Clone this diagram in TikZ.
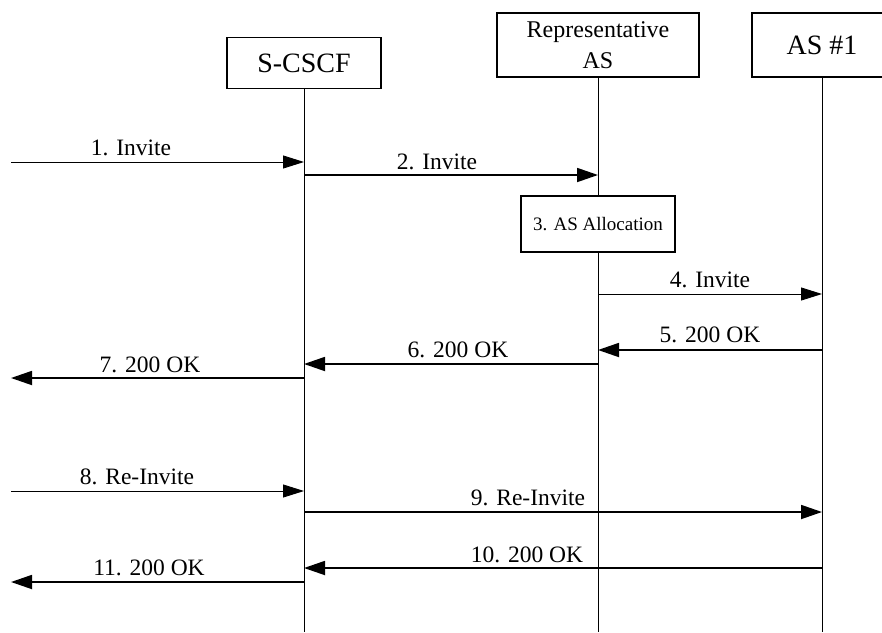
\documentclass[tikz,border=0pt]{standalone}
\usepackage{fontspec}
\setmainfont{Liberation Serif}
\usetikzlibrary{arrows.meta, positioning}

\tikzset{
  entity/.style={draw, line width=1.3pt, fill=white, align=center, inner sep=2pt},
  lifeline/.style={line width=0.8pt},
  msg/.style={line width=1.8pt, -{Triangle[length=21pt,width=14pt]}},
  msgthin/.style={line width=0.9pt, -{Triangle[length=21pt,width=13pt]}},
  lbl/.style={font=\fontsize{23.5}{26}\selectfont, inner sep=0pt},
}

\begin{document}
\begin{tikzpicture}[x=1pt,y=-1pt]
  \useasboundingbox (0,0) rectangle (882,632);
  \coordinate (edge) at (11,0);
  \coordinate (bottom) at (0,632);

  % entities
  \node[entity, minimum width=154pt, minimum height=51pt, font=\fontsize{28}{30}\selectfont] (scscf) at (304,63) {S-CSCF};
  \node[entity, minimum width=202pt, minimum height=64pt, font=\fontsize{24}{31}\selectfont] (rep) at (598,45) {Representative\\AS};
  \node[entity, minimum width=140pt, minimum height=64pt, font=\fontsize{28}{30}\selectfont] (as1) at (822,45) {AS \#1};
  \node[entity, minimum width=154pt, minimum height=56pt, font=\fontsize{19}{21}\selectfont] (alloc) at (598,224) {3. AS Allocation};

  % lifelines
  \draw[lifeline] (scscf.south) -- (scscf.south |- bottom);
  \draw[lifeline] (rep.south) -- (alloc.north);
  \draw[lifeline] (alloc.south) -- (rep.south |- bottom);
  \draw[lifeline] (as1.south) -- (as1.south |- bottom);

  % messages
  \draw[msgthin] (edge |- 0,162) -- (scscf |- 0,162);
  \node[lbl] (l1) at (131,148) {1. Invite};
  \draw[msg] (scscf |- 0,175) -- (rep |- 0,175);
  \node[lbl] (l2) at (437,162) {2. Invite};
  \draw[msgthin] (rep |- 0,294) -- (as1 |- 0,294);
  \node[lbl] (l4) at (710,280) {4. Invite};
  \draw[msg] (as1 |- 0,350) -- (rep |- 0,350);
  \node[lbl] (l5) at (710,335) {5. 200 OK};
  \draw[msg] (rep |- 0,364) -- (scscf |- 0,364);
  \node[lbl] (l6) at (458,350) {6. 200 OK};
  \draw[msg] (scscf |- 0,378) -- (edge |- 0,378);
  \node[lbl] (l7) at (150,365) {7. 200 OK};

  \draw[msgthin] (edge |- 0,491) -- (scscf |- 0,491);
  \node[lbl] (l8) at (137,477) {8. Re-Invite};
  \draw[msg] (scscf |- 0,512) -- (as1 |- 0,512);
  \node[lbl] (l9) at (528,498) {9. Re-Invite};
  \draw[msg] (as1 |- 0,568) -- (scscf |- 0,568);
  \node[lbl] (l10) at (527,555) {10. 200 OK};
  \draw[msg] (scscf |- 0,582) -- (edge |- 0,582);
  \node[lbl] (l11) at (149,568) {11. 200 OK};
\end{tikzpicture}
\end{document}
